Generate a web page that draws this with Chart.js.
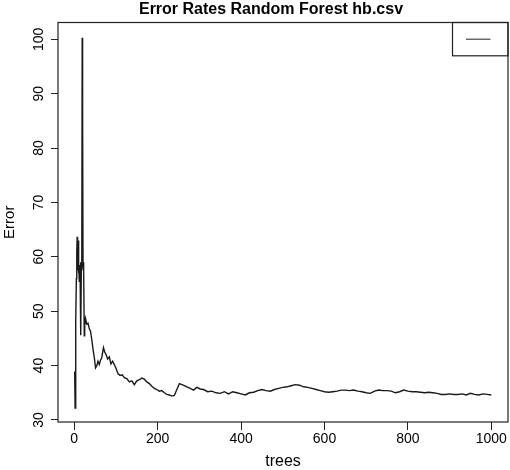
<!DOCTYPE html>
<html>
<head>
<meta charset="utf-8">
<script src="https://cdn.jsdelivr.net/npm/chart.js@4"></script>
<style>
  html, body { margin: 0; padding: 0; background: #ffffff; }
  #wrap { width: 510px; height: 470px; }
</style>
</head>
<body>
<div id="wrap"><canvas id="c" width="510" height="470"></canvas></div>
<script>
// ---- data ----
const chartTitle = 'Error Rates Random Forest hb.csv';
const xTitle = 'trees';
const yTitle = 'Error';
const xTicks = [0, 200, 400, 600, 800, 1000];
const yTicks = [30, 40, 50, 60, 70, 80, 90, 100];

const trees = [1,2,3,4,5,6,7,8,9,10,11,12,13,14,15,16,17,18,19,20,21,22,23,24,25,26,28,30,33,36,39,42,45,48,51,54,57,60,63,66,70,73,77,80,84,88,92,96,100,105,110,115,120,126,132,138,144,150,156,162,168,174,180,186,192,198,204,210,216,222,228,234,240,246,252,258,264,270,278,286,294,302,310,320,330,340,350,360,370,380,390,400,410,420,430,440,450,460,470,480,490,500,510,520,530,540,550,560,570,580,590,600,610,620,630,640,650,660,670,680,690,700,710,720,730,740,750,760,770,780,790,800,810,820,830,840,850,860,870,880,890,900,910,920,930,940,950,960,970,980,990,1000];

const errorRate = [38.9,32.2,36.5,48,56,61,63.7,57.5,63,57,59,55.5,58.5,57,59,45.6,58,57.5,100.3,86,58.5,59,57.5,45.5,49,47.8,48.3,47.6,47.8,46.8,46.3,44.8,43,41.5,39.6,40.0,40.8,40.2,41.0,41.5,43.3,42.5,41.9,41.2,41.6,40.3,40.8,40.2,39.5,38.5,38.2,38.3,37.8,37.6,37.0,37.2,36.5,37.2,37.4,37.7,37.5,37.0,36.7,36.2,35.8,35.6,35.3,35.4,35.0,34.7,34.6,34.4,34.5,35.6,36.7,36.5,36.3,36.1,35.8,35.5,36.0,35.7,35.6,35.2,35.3,35.0,34.9,35.2,34.8,35.2,35.0,34.8,34.6,35.0,35.1,35.4,35.6,35.4,35.3,35.6,35.8,36.0,36.1,36.3,36.5,36.4,36.1,36.0,35.8,35.6,35.4,35.2,35.1,35.2,35.3,35.5,35.5,35.4,35.5,35.3,35.2,35.0,34.9,35.3,35.5,35.4,35.4,35.3,35.0,35.2,35.5,35.3,35.2,35.2,35.1,35.0,35.1,35.0,34.9,34.7,34.7,34.8,34.7,34.7,34.8,34.6,34.9,34.7,34.6,34.8,34.7,34.6];

Chart.defaults.font.family = "'Liberation Sans', Arial, Helvetica, sans-serif";
Chart.defaults.color = '#000';

const boxPlugin = {
  id: 'rbox',
  afterLayout(chart) {
    // R centres the title a little right of the canvas centre
    const tb = chart.titleBlock;
    if (tb) { tb.left += 17; tb.right += 17; }
  },
  afterDraw(chart) {
    const { ctx, chartArea: a } = chart;
    ctx.save();
    ctx.strokeStyle = '#222';
    ctx.lineWidth = 1.2;
    ctx.strokeRect(a.left, a.top, a.right - a.left, a.bottom - a.top);
    // legend box (empty label, line sample only)
    const lw = 55.5, lh = 33.3;
    const lx = a.right - lw, ly = a.top;
    ctx.strokeRect(lx, ly, lw, lh);
    ctx.strokeStyle = '#444';
    ctx.lineWidth = 1.2;
    ctx.beginPath();
    ctx.moveTo(lx + 13.5, ly + 16.7);
    ctx.lineTo(lx + 38, ly + 16.7);
    ctx.stroke();
    ctx.restore();
  }
};

new Chart(document.getElementById('c'), {
  type: 'line',
  data: {
    datasets: [{
      label: '',
      data: trees.map((t, i) => ({ x: t, y: errorRate[i] })),
      borderColor: '#1a1a1a',
      borderWidth: 1.4,
      pointRadius: 0,
      tension: 0,
      fill: false
    }]
  },
  options: {
    responsive: false,
    animation: false,
    layout: { padding: { left: 0, right: 2, top: 0, bottom: 0 } },
    plugins: {
      legend: { display: false },
      tooltip: { enabled: false },
      title: {
        display: true,
        text: chartTitle,
        color: '#000',
        font: { size: 16, weight: 'bold', lineHeight: 1 },
        padding: { top: 1.5, bottom: 5 }
      }
    },
    scales: {
      x: {
        type: 'linear',
        min: -39,
        max: 1040,
        afterBuildTicks: s => { s.ticks = xTicks.map(v => ({ value: v })); },
        afterFit: s => { s.height = 48; },
        border: { display: false },
        grid: { drawOnChartArea: false, drawTicks: true, tickLength: 8, color: '#222', lineWidth: 1 },
        ticks: { autoSkip: false, maxRotation: 0, padding: 1, color: '#000', font: { size: 14 }, callback: v => String(v) },
        title: { display: true, text: xTitle, color: '#000', font: { size: 16, lineHeight: 1 }, padding: { top: 0, bottom: 0 } }
      },
      y: {
        type: 'linear',
        min: 29.63,
        max: 103.09,
        afterBuildTicks: s => { s.ticks = yTicks.map(v => ({ value: v })); },
        afterFit: s => { s.width = 58; },
        border: { display: false },
        grid: { drawOnChartArea: false, drawTicks: true, tickLength: 7, color: '#222', lineWidth: 1 },
        ticks: { autoSkip: false, minRotation: 90, maxRotation: 90, crossAlign: 'center', padding: 0, color: '#000', font: { size: 14 }, callback: v => String(v) },
        title: { display: true, text: yTitle, color: '#000', font: { size: 15, lineHeight: 1 }, padding: { top: 2.5, bottom: 0 } }
      }
    }
  },
  plugins: [boxPlugin]
});
</script>
</body>
</html>
